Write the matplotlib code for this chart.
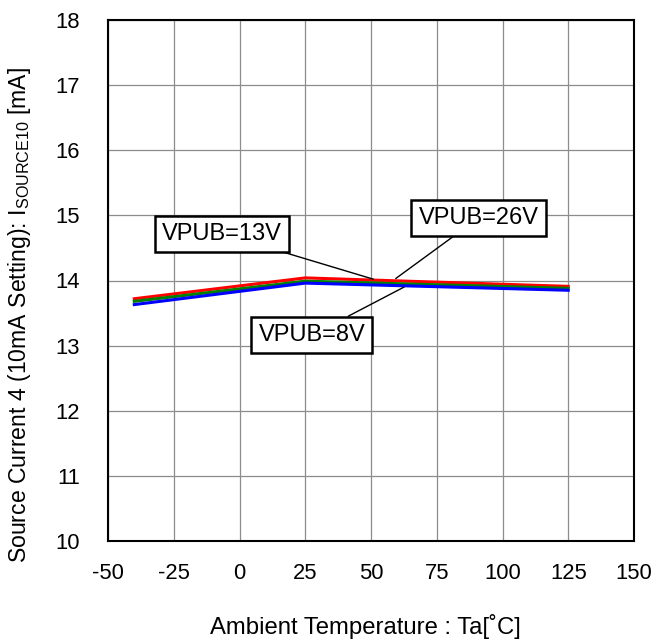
import matplotlib
matplotlib.use("Agg")
import matplotlib.pyplot as plt

plt.rcParams["font.family"] = ["Liberation Sans", "DejaVu Sans"]
plt.rcParams["mathtext.default"] = "regular"
plt.rcParams["axes.unicode_minus"] = False

# data
temps = [-40, 25, 125]
vpub_26v = [13.72, 14.04, 13.91]
vpub_13v = [13.68, 13.99, 13.88]
vpub_8v = [13.63, 13.96, 13.85]

x_ticks = [-50, -25, 0, 25, 50, 75, 100, 125, 150]
y_ticks = [10, 11, 12, 13, 14, 15, 16, 17, 18]

fig = plt.figure(figsize=(6.54, 6.41), dpi=100)
ax = fig.add_axes([108 / 654, 100 / 641, 526 / 654, 521 / 641])

ax.plot(temps, vpub_26v, color="red", lw=2.2, zorder=3)
ax.plot(temps, vpub_13v, color="#008000", lw=2.2, zorder=3)
ax.plot(temps, vpub_8v, color="blue", lw=2.2, zorder=3)

ax.set_xlim(-50, 150)
ax.set_ylim(10, 18)
ax.set_xticks(x_ticks)
ax.set_yticks(y_ticks)
ax.tick_params(length=0, labelsize=15.8)
ax.tick_params(axis="x", pad=16)
ax.tick_params(axis="y", pad=20)
ax.grid(True, color="#8c8c8c", lw=0.9)
for s in ax.spines.values():
    s.set_linewidth(1.5)
    s.set_color("black")

box = dict(boxstyle="square,pad=0.3", fc="white", ec="black", lw=1.8)
arrow = dict(arrowstyle="-", color="black", lw=1.0, shrinkA=0, shrinkB=0)
ax.annotate("VPUB=13V", xy=(50.9, 14.02), xytext=(-6.8, 14.72), fontsize=17,
            ha="center", va="center", bbox=box, arrowprops=arrow, zorder=4)
ax.annotate("VPUB=26V", xy=(59.4, 14.03), xytext=(90.9, 14.96), fontsize=17,
            ha="center", va="center", bbox=box, arrowprops=arrow, zorder=4)
ax.annotate("VPUB=8V", xy=(62.6, 13.90), xytext=(27.5, 13.16), fontsize=17,
            ha="center", va="center", bbox=box, arrowprops=arrow, zorder=4)

ax.set_xlabel("Ambient Temperature : Ta[˚C]", fontsize=17.2)
ax.set_ylabel("Source Current 4 (10mA Setting): I$_{SOURCE10}$ [mA]", fontsize=16.6)
ax.xaxis.set_label_coords(0.489, -0.14)
ax.yaxis.set_label_coords(-0.142, 0.434)

fig.savefig("out.png", dpi=100)
